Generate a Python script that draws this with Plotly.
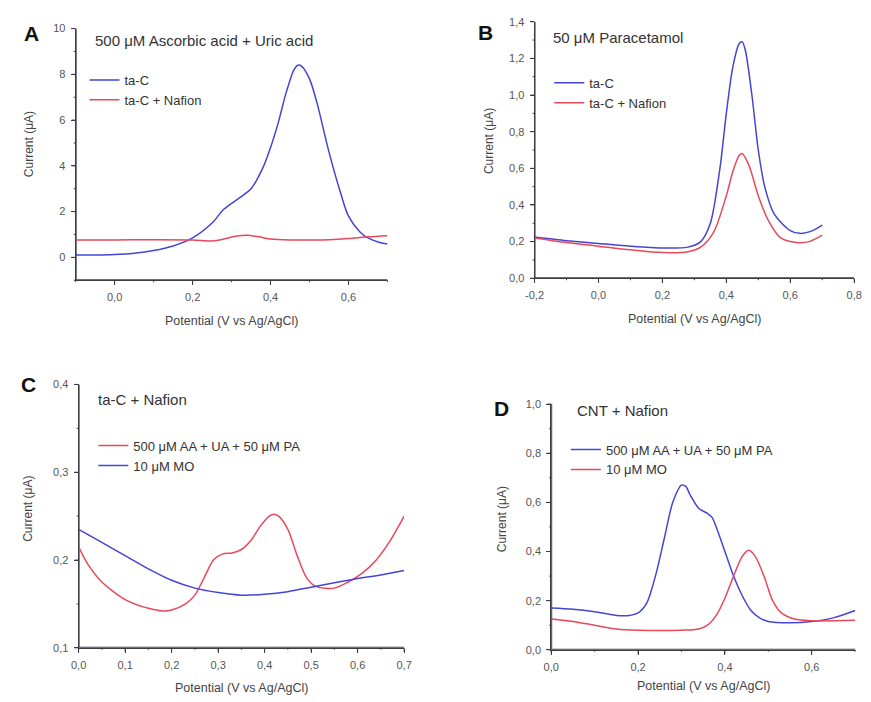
import plotly.graph_objects as go

W, H = 871, 702

# ---------------- data ----------------
# Panel A: 500 uM Ascorbic acid + Uric acid
A_x_tac = [-0.10, -0.05, 0.00, 0.05, 0.10, 0.15, 0.20, 0.25, 0.28, 0.32, 0.35, 0.38, 0.40,
           0.42, 0.44, 0.46, 0.47, 0.48, 0.50, 0.52, 0.55, 0.58, 0.60, 0.63, 0.65, 0.68, 0.70]
A_y_tac = [0.10, 0.10, 0.12, 0.18, 0.30, 0.50, 0.85, 1.50, 2.10, 2.60, 3.00, 3.90, 4.80,
           5.90, 7.20, 8.20, 8.40, 8.35, 7.80, 6.70, 4.60, 2.80, 1.80, 1.10, 0.85, 0.65, 0.58]
A_x_naf = [-0.10, 0.00, 0.10, 0.20, 0.25, 0.28, 0.31, 0.34, 0.37, 0.40, 0.45, 0.50, 0.55,
           0.60, 0.65, 0.70]
A_y_naf = [0.76, 0.76, 0.77, 0.76, 0.72, 0.80, 0.92, 0.97, 0.90, 0.80, 0.76, 0.76, 0.77,
           0.82, 0.90, 0.95]

# Panel B: 50 uM Paracetamol
B_x_tac = [-0.20, -0.10, 0.00, 0.10, 0.20, 0.28, 0.32, 0.35, 0.38, 0.40, 0.42, 0.44, 0.45,
           0.46, 0.48, 0.50, 0.52, 0.55, 0.60, 0.63, 0.67, 0.70]
B_y_tac = [0.225, 0.205, 0.190, 0.175, 0.165, 0.170, 0.200, 0.300, 0.600, 0.900, 1.150, 1.280,
           1.290, 1.240, 1.000, 0.700, 0.500, 0.350, 0.260, 0.245, 0.260, 0.290]
B_x_naf = [-0.20, -0.10, 0.00, 0.10, 0.20, 0.28, 0.32, 0.36, 0.40, 0.42, 0.44, 0.45, 0.47,
           0.50, 0.53, 0.57, 0.62, 0.66, 0.70]
B_y_naf = [0.220, 0.195, 0.175, 0.155, 0.140, 0.145, 0.170, 0.250, 0.450, 0.580, 0.670, 0.680,
           0.620, 0.450, 0.320, 0.220, 0.195, 0.200, 0.235]

# Panel C: ta-C + Nafion
C_x_mix = [0.00, 0.02, 0.05, 0.10, 0.15, 0.18, 0.20, 0.23, 0.25, 0.27, 0.29, 0.31, 0.33,
           0.35, 0.37, 0.39, 0.41, 0.42, 0.43, 0.45, 0.47, 0.49, 0.51, 0.55, 0.58, 0.61,
           0.64, 0.67, 0.70]
C_y_mix = [0.215, 0.195, 0.175, 0.155, 0.145, 0.142, 0.143, 0.150, 0.160, 0.180, 0.200, 0.207,
           0.208, 0.212, 0.222, 0.238, 0.250, 0.252, 0.250, 0.235, 0.205, 0.180, 0.170, 0.168,
           0.175, 0.185, 0.200, 0.222, 0.250]
C_x_mo = [0.00, 0.05, 0.10, 0.15, 0.20, 0.25, 0.30, 0.35, 0.40, 0.45, 0.50, 0.55, 0.60,
          0.65, 0.70]
C_y_mo = [0.235, 0.220, 0.205, 0.190, 0.177, 0.168, 0.163, 0.160, 0.161, 0.164, 0.169, 0.174,
          0.179, 0.183, 0.188]

# Panel D: CNT + Nafion
D_x_mix = [0.00, 0.05, 0.10, 0.15, 0.18, 0.20, 0.22, 0.24, 0.26, 0.28, 0.30, 0.31, 0.32,
           0.34, 0.36, 0.37, 0.38, 0.40, 0.42, 0.44, 0.46, 0.48, 0.50, 0.55, 0.60, 0.65, 0.70]
D_y_mix = [0.170, 0.165, 0.155, 0.140, 0.140, 0.150, 0.190, 0.300, 0.450, 0.600, 0.670, 0.665,
           0.630, 0.575, 0.555, 0.540, 0.500, 0.400, 0.300, 0.220, 0.160, 0.130, 0.115, 0.110,
           0.115, 0.130, 0.160]
D_x_mo = [0.00, 0.05, 0.10, 0.15, 0.20, 0.30, 0.34, 0.36, 0.38, 0.40, 0.42, 0.44, 0.455,
          0.47, 0.49, 0.51, 0.53, 0.56, 0.60, 0.70]
D_y_mo = [0.125, 0.115, 0.100, 0.085, 0.080, 0.080, 0.085, 0.100, 0.140, 0.210, 0.300, 0.380,
          0.405, 0.380, 0.300, 0.200, 0.150, 0.125, 0.118, 0.120]

# tick values / labels (comma decimals as in the reference)
A_xticks = [0.0, 0.2, 0.4, 0.6]
A_xlabels = ["0,0", "0,2", "0,4", "0,6"]
A_yticks = [0, 2, 4, 6, 8, 10]
A_ylabels = ["0", "2", "4", "6", "8", "10"]
B_xticks = [-0.2, 0.0, 0.2, 0.4, 0.6, 0.8]
B_xlabels = ["-0,2", "0,0", "0,2", "0,4", "0,6", "0,8"]
B_yticks = [0.0, 0.2, 0.4, 0.6, 0.8, 1.0, 1.2, 1.4]
B_ylabels = ["0,0", "0,2", "0,4", "0,6", "0,8", "1,0", "1,2", "1,4"]
C_xticks = [0.0, 0.1, 0.2, 0.3, 0.4, 0.5, 0.6, 0.7]
C_xlabels = ["0,0", "0,1", "0,2", "0,3", "0,4", "0,5", "0,6", "0,7"]
C_yticks = [0.1, 0.2, 0.3, 0.4]
C_ylabels = ["0,1", "0,2", "0,3", "0,4"]
D_xticks = [0.0, 0.2, 0.4, 0.6]
D_xlabels = ["0,0", "0,2", "0,4", "0,6"]
D_yticks = [0.0, 0.2, 0.4, 0.6, 0.8, 1.0]
D_ylabels = ["0,0", "0,2", "0,4", "0,6", "0,8", "1,0"]

BLUE = "#4444d6"
RED = "#e8485a"
AXC = "#3c3c46"
FONT = "Liberation Sans, Arial, sans-serif"

panels = [
    ("", (68, 386, 23, 279), [-0.1, 0.7], [-1, 10], A_xticks, A_xlabels, A_yticks, A_ylabels),
    ("2", (536, 862, 16, 277), [-0.2, 0.8], [0, 1.4], B_xticks, B_xlabels, B_yticks, B_ylabels),
    ("3", (71, 403, 385, 653), [0, 0.7], [0.1, 0.4], C_xticks, C_xlabels, C_yticks, C_ylabels),
    ("4", (553, 863, 405, 655), [0, 0.7], [0, 1.0], D_xticks, D_xlabels, D_yticks, D_ylabels),
]

fig = go.Figure()

# axis frame (L shape) drawn on each panel's own axes, beneath the curves
for s, box, xr, yr, *_ in panels:
    fig.add_trace(go.Scatter(
        x=[xr[1], xr[0], xr[0]], y=[yr[0], yr[0], yr[1]], mode="lines",
        line=dict(color=AXC, width=2), showlegend=False, hoverinfo="skip",
        xaxis="x" + (s or ""), yaxis="y" + (s or "")))

def add(x, y, name, color, n, legend):
    fig.add_trace(go.Scatter(
        x=x, y=y, name=name, mode="lines",
        line=dict(color=color, width=1.5, shape="spline", smoothing=0.8),
        xaxis="x" if n == 1 else f"x{n}", yaxis="y" if n == 1 else f"y{n}",
        legend=legend))

add(A_x_tac, A_y_tac, "ta-C", BLUE, 1, "legend")
add(A_x_naf, A_y_naf, "ta-C + Nafion", RED, 1, "legend")
add(B_x_tac, B_y_tac, "ta-C", BLUE, 2, "legend2")
add(B_x_naf, B_y_naf, "ta-C + Nafion", RED, 2, "legend2")
add(C_x_mix, C_y_mix, "500 μM AA + UA + 50 μM PA", RED, 3, "legend3")
add(C_x_mo, C_y_mo, "10 μM MO", BLUE, 3, "legend3")
add(D_x_mix, D_y_mix, "500 μM AA + UA + 50 μM PA", BLUE, 4, "legend4")
add(D_x_mo, D_y_mo, "10 μM MO", RED, 4, "legend4")

def axis(dom, rng, tv, tt, anchor):
    return dict(
        domain=dom, range=rng, anchor=anchor,
        tickmode="array", tickvals=tv, ticktext=tt,
        showline=True, linecolor=AXC, linewidth=1,
        ticks="outside", ticklen=4, tickcolor=AXC, tickwidth=1, ticklabelstandoff=3,
        showgrid=False, zeroline=False, fixedrange=True,
        tickfont=dict(size=11, color="#555555", family=FONT),
    )

def hidden_axis(dom, rng, anchor):
    return dict(domain=dom, range=rng, anchor=anchor, visible=False,
                showgrid=False, zeroline=False, fixedrange=True)

def minor_ticks(tv, rng):
    half = (tv[1] - tv[0]) / 2
    m = [(a + b) / 2 for a, b in zip(tv[:-1], tv[1:])]
    if tv[0] - half >= rng[0] - 1e-9:
        m = [tv[0] - half] + m
    if tv[-1] + half <= rng[1] + 1e-9:
        m = m + [tv[-1] + half]
    return m

layout = dict(
    width=W, height=H, margin=dict(l=0, r=0, t=0, b=0),
    paper_bgcolor="white", plot_bgcolor="rgba(0,0,0,0)",
    font=dict(family=FONT, color="#333"),
    showlegend=True, hovermode=False,
)
PAD = 7  # px of room around each panel for the tick overlay
for k, (s, box, xr, yr, xt, xl, yt, yl) in enumerate(panels):
    l, r, t, b = box
    layout["xaxis" + s] = axis([l / W, r / W], xr, xt, xl, "y" + s)
    layout["yaxis" + s] = axis([1 - b / H, 1 - t / H], yr, yt, yl, "x" + s)

    # overlay subplot with the same scale, slightly larger, for axis lines + ticks
    dux = (xr[1] - xr[0]) / (r - l)
    duy = (yr[1] - yr[0]) / (b - t)
    o = str(k + 5)
    layout["xaxis" + o] = hidden_axis([(l - PAD) / W, (r + PAD) / W],
                                      [xr[0] - PAD * dux, xr[1] + PAD * dux], "y" + o)
    layout["yaxis" + o] = hidden_axis([1 - (b + PAD) / H, 1 - (t - PAD) / H],
                                      [yr[0] - PAD * duy, yr[1] + PAD * duy], "x" + o)
    fx, fy = [], []
    for v, L in [(v, 4) for v in xt] + [(v, 2) for v in minor_ticks(xt, xr)]:
        fx += [v, v, None]
        fy += [yr[0], yr[0] - L * duy, None]
    for v, L in [(v, 4) for v in yt] + [(v, 2) for v in minor_ticks(yt, yr)]:
        fx += [xr[0], xr[0] - L * dux, None]
        fy += [v, v, None]
    fig.add_trace(go.Scatter(x=fx, y=fy, mode="lines", showlegend=False,
                             line=dict(color=AXC, width=1), hoverinfo="skip",
                             xaxis="x" + o, yaxis="y" + o))

def legend_at(xpx, ypx):
    return dict(x=xpx / W, y=1 - ypx / H, xanchor="left", yanchor="top",
                bgcolor="rgba(0,0,0,0)", borderwidth=0, tracegroupgap=0,
                font=dict(size=13, color="#333", family=FONT))

layout["legend"] = legend_at(77, 60)
layout["legend2"] = legend_at(551, 63)
layout["legend3"] = legend_at(86, 432)
layout["legend4"] = legend_at(568, 436)

ann = []
def text(xpx, ypx, s, size, angle=0, bold=False, anchor="center", color="#333"):
    ann.append(dict(x=xpx / W, y=1 - ypx / H, xref="paper", yref="paper",
                    text=f"<b>{s}</b>" if bold else s, showarrow=False,
                    xanchor=anchor, yanchor="middle", textangle=angle,
                    font=dict(size=size, color=color, family=FONT)))

# panel letters
text(23, 28, "A", 21, bold=True, color="#111")
text(486, 27, "B", 21, bold=True, color="#111")
text(20, 385, "C", 21, bold=True, color="#111")
text(502, 410, "D", 21, bold=True, color="#111")
# panel titles
text(86, 35, "500 μM Ascorbic acid + Uric acid", 15, anchor="left")
text(553, 32, "50 μM Paracetamol", 15, anchor="left")
text(89, 400, "ta-C + Nafion", 15, anchor="left")
text(577, 412, "CNT + Nafion", 15, anchor="left")
# axis titles
text(20, 141, "Current (μA)", 12, angle=-90, color="#444")
text(489, 137, "Current (μA)", 12, angle=-90, color="#444")
text(20, 512, "Current (μA)", 12, angle=-90, color="#444")
text(503, 522, "Current (μA)", 12, angle=-90, color="#444")
text(227, 320, "Potential (V vs Ag/AgCl)", 12.5, color="#444")
text(699, 318, "Potential (V vs Ag/AgCl)", 12.5, color="#444")
text(237, 694, "Potential (V vs Ag/AgCl)", 12.5, color="#444")
text(708, 692, "Potential (V vs Ag/AgCl)", 12.5, color="#444")
layout["annotations"] = ann

fig.update_layout(**layout)
fig.write_html("out.html")
